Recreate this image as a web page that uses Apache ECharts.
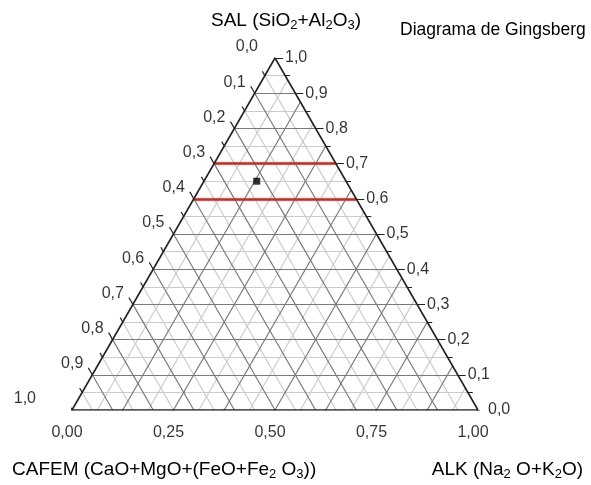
<!DOCTYPE html>
<html><head><meta charset="utf-8">
<script src="https://cdn.jsdelivr.net/npm/echarts@6/dist/echarts.min.js"></script>
<style>html,body{margin:0;padding:0;background:#fff}#c{width:591px;height:485px}</style>
</head><body><div id="c"></div>
<script>
// ---- data ----
const leftTickValues = [0.0,0.1,0.2,0.3,0.4,0.5,0.6,0.7,0.8,0.9,1.0];          // CAFEM
const leftTickLabels = ['0,0','0,1','0,2','0,3','0,4','0,5','0,6','0,7','0,8','0,9','1,0'];
const leftMinorValues = [0.05,0.15,0.25,0.35,0.45,0.55,0.65,0.75,0.85,0.95];
const rightTickValues = [1.0,0.9,0.8,0.7,0.6,0.5,0.4,0.3,0.2,0.1,0.0];         // SAL
const rightTickLabels = ['1,0','0,9','0,8','0,7','0,6','0,5','0,4','0,3','0,2','0,1','0,0'];
const rightMinorValues = [0.95,0.85,0.75,0.65,0.55,0.45,0.35,0.25,0.15,0.05];
const bottomTickValues = [0,0.125,0.25,0.375,0.5,0.625,0.75,0.875,1.0];        // ALK
const bottomLabelValues = [0,0.25,0.5,0.75,1.0];
const bottomTickLabels = ['0,00','0,25','0,50','0,75','1,00'];
const gridMajor = [0.1,0.2,0.3,0.4,0.5,0.6,0.7,0.8,0.9];
const gridMinor = [0.05,0.15,0.25,0.35,0.45,0.55,0.65,0.75,0.85,0.95];
const alkMajor = [0.125,0.25,0.375,0.5,0.625,0.75,0.875];
const alkMinor = [0.0625,0.1875,0.3125,0.4375,0.5625,0.6875,0.8125,0.9375];
const salLimits = [0.6, 0.7];
const sampleALK = [0.13];
const sampleSAL = [0.65];

// ---- geometry helpers (data space: x = ALK + SAL/2, y = SAL) ----
const GW = 406, GH = 352;
const PX = 1/GW, PY = 1/GH;
const xy = (a, s) => [a + s/2, s];
const salLine = s => ({coords:[xy(0,s), xy(1-s,s)]});
const cafLine = c => ({coords:[xy(0,1-c), xy(1-c,0)]});
const alkLine = a => ({coords:[xy(a,0), xy(a,1-a)]});

const minorLines = [].concat(gridMinor.map(salLine), gridMinor.map(cafLine), alkMinor.map(alkLine));
const majorLines = [].concat(gridMajor.map(salLine), gridMajor.map(cafLine), alkMajor.map(alkLine));
const edges = [{coords:[xy(0,0),xy(1,0)]},{coords:[xy(0,0),xy(0,1)]},{coords:[xy(1,0),xy(0,1)]}];

function rightTick(s, L){ const p = xy(1-s,s); return {coords:[p,[p[0]+L*PX,p[1]]]}; }
function leftTick(c, L){ const p = xy(0,1-c); return {coords:[p,[p[0]-0.5*L*PX,p[1]+0.866*L*PY]]}; }
function bottomTick(a, L){ const p = xy(a,0); return {coords:[p,[p[0]-0.5*L*PX,p[1]-0.866*L*PY]]}; }
const ticks = [].concat(
  rightTickValues.map(s=>rightTick(s,8)), rightMinorValues.map(s=>rightTick(s,5)),
  leftTickValues.map(c=>leftTick(c,8)), leftMinorValues.map(c=>leftTick(c,5)),
  bottomTickValues.map(a=>bottomTick(a,8))
);

const FONT = 'Liberation Sans, Arial, Helvetica, sans-serif';
const lab = {fontFamily: FONT, fontSize: 16, color: '#000', fontWeight:'normal'};

const leftLabelData = leftTickValues.map((c,i)=>{
  let dx = -9;
  if (i===0) dx = -17;
  if (i===leftTickValues.length-1) dx = -36;
  return {value: xy(0,1-c), label:{offset:[dx,-11], formatter: leftTickLabels[i]}};
});
const rightLabelData = rightTickValues.map((s,i)=>({value: xy(1-s,s), label:{offset:[10,0], formatter: rightTickLabels[i]}}));
const bottomLabelData = bottomLabelValues.map((a,i)=>({value: xy(a,0), label:{offset:[-5,23], formatter: bottomTickLabels[i]}}));

const rich = {
  n:{fontFamily:FONT, fontSize:19, fontWeight:'normal', color:'#000'},
  s:{fontFamily:FONT, fontSize:13, fontWeight:'normal', color:'#000', padding:[9,0,0,0]}
};
const tStyle = {fontWeight:'normal', rich};

const chart = echarts.init(document.getElementById('c'), null, {renderer:'canvas'});
chart.setOption({
  backgroundColor:'#fff',
  animation:false,
  title:[
    {text:'{n|SAL (SiO}{s|2}{n|+Al}{s|2}{n|O}{s|3}{n|)}', left:206, top:5, textStyle:tStyle},
    {text:'{n|Diagrama de Gingsberg}', left:395, top:16, textStyle:{fontWeight:'normal', rich:{n:{fontFamily:FONT,fontSize:17.5,fontWeight:'normal',color:'#000'}}}},
    {text:'{n|CAFEM (CaO+MgO+(FeO+Fe}{s|2}{n| O}{s|3}{n|))}', left:7, top:454, textStyle:tStyle},
    {text:'{n|ALK (Na}{s|2}{n| O+K}{s|2}{n|O)}', right:3, top:454, textStyle:tStyle}
  ],
  grid:{left:72, top:58, width:GW, height:GH, show:false},
  xAxis:{type:'value', min:0, max:1, show:false},
  yAxis:{type:'value', min:0, max:1, show:false},
  series:[
    {type:'lines', coordinateSystem:'cartesian2d', silent:true, data:minorLines,
     lineStyle:{color:'#cbcbcb', width:1.2, opacity:1}},
    {type:'lines', coordinateSystem:'cartesian2d', silent:true, data:majorLines,
     lineStyle:{color:'#7a7a7a', width:1.2, opacity:1}},
    {type:'lines', coordinateSystem:'cartesian2d', silent:true, data:salLimits.map(salLine),
     lineStyle:{color:'#b3342b', width:2.5, opacity:1, shadowColor:'rgba(230,120,120,0.6)', shadowBlur:3}},
    {type:'lines', coordinateSystem:'cartesian2d', silent:true, data:edges,
     lineStyle:{color:'#222', width:1.6, opacity:1}},
    {type:'lines', coordinateSystem:'cartesian2d', silent:true, data:ticks,
     lineStyle:{color:'#222', width:1.2, opacity:1}},
    {type:'scatter', symbol:'rect', symbolSize:7, itemStyle:{color:'#000'},
     data: sampleALK.map((a,i)=>xy(a, sampleSAL[i]))},
    {type:'scatter', symbolSize:1, itemStyle:{color:'transparent'}, silent:true, data:leftLabelData,
     label:{show:true, position:'inside', align:'right', verticalAlign:'middle', ...lab}},
    {type:'scatter', symbolSize:1, itemStyle:{color:'transparent'}, silent:true, data:rightLabelData,
     label:{show:true, position:'inside', align:'left', verticalAlign:'middle', ...lab}},
    {type:'scatter', symbolSize:1, itemStyle:{color:'transparent'}, silent:true, data:bottomLabelData,
     label:{show:true, position:'inside', align:'center', verticalAlign:'middle', ...lab}}
  ]
});
</script></body></html>
